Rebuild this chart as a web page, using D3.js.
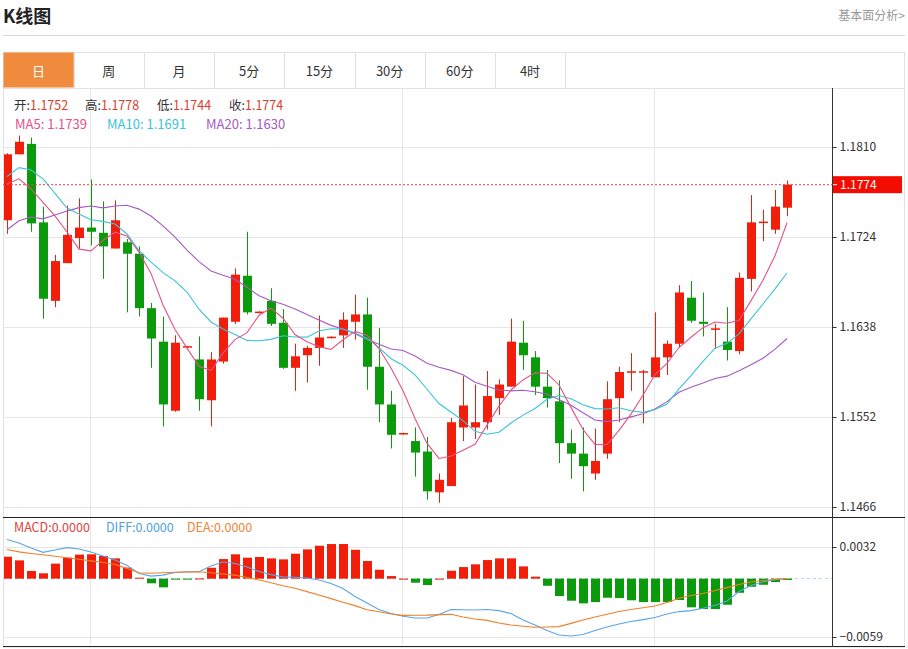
<!DOCTYPE html>
<html><head><meta charset="utf-8">
<script src="https://cdn.jsdelivr.net/npm/d3@7"></script>
<style>
body{margin:0;background:#fff;}
svg{display:block;font-family:"Noto Sans CJK SC","Microsoft YaHei",sans-serif;}
</style></head><body>
<svg id="c" width="908" height="649"></svg>
<script>
// ---------- data ----------
const categories = d3.range(66);
const open = [1.1740,1.1803,1.1813,1.1738,1.1663,1.1699,1.1723,1.1733,1.1728,1.1713,1.1719,1.1708,1.1656,1.1624,1.1558,1.1619,1.1607,1.1568,1.1605,1.1643,1.1687,1.1652,1.1663,1.1642,1.1599,1.1611,1.1618,1.1628,1.1630,1.1643,1.1650,1.1600,1.1564,1.1536,1.1529,1.1519,1.1480,1.1486,1.1542,1.1542,1.1547,1.1570,1.1581,1.1623,1.1609,1.1581,1.1567,1.1527,1.1517,1.1498,1.1517,1.1570,1.1595,1.1595,1.1590,1.1609,1.1622,1.1666,1.1643,1.1636,1.1624,1.1615,1.1684,1.1738,1.1731,1.1752];
const high = [1.1804,1.1821,1.1819,1.1753,1.1707,1.1754,1.1761,1.1779,1.1758,1.1759,1.1722,1.1715,1.1661,1.1648,1.1630,1.1620,1.1629,1.1614,1.1647,1.1694,1.1729,1.1653,1.1675,1.1655,1.1622,1.1620,1.1649,1.1629,1.1652,1.1669,1.1666,1.1637,1.1577,1.1537,1.1542,1.1533,1.1498,1.1551,1.1591,1.1583,1.1596,1.1588,1.1646,1.1644,1.1615,1.1597,1.1587,1.1540,1.1542,1.1541,1.1586,1.1600,1.1613,1.1597,1.1652,1.1625,1.1678,1.1682,1.1671,1.1641,1.1657,1.1690,1.1764,1.1750,1.1769,1.1778];
const low = [1.1727,1.1803,1.1729,1.1646,1.1657,1.1699,1.1713,1.1716,1.1684,1.1713,1.1652,1.1648,1.1599,1.1543,1.1557,1.1618,1.1558,1.1543,1.1603,1.1641,1.1650,1.1651,1.1639,1.1598,1.1577,1.1585,1.1601,1.1627,1.1618,1.1626,1.1578,1.1547,1.1522,1.1535,1.1495,1.1473,1.1470,1.1486,1.1529,1.1531,1.1540,1.1554,1.1581,1.1597,1.1573,1.1561,1.1508,1.1493,1.1481,1.1492,1.1512,1.1547,1.1577,1.1546,1.1590,1.1592,1.1618,1.1642,1.1629,1.1617,1.1606,1.1612,1.1672,1.1720,1.1727,1.1744];
const close = [1.1803,1.1815,1.1737,1.1665,1.1701,1.1726,1.1733,1.1729,1.1715,1.1740,1.1708,1.1656,1.1627,1.1564,1.1623,1.1619,1.1569,1.1607,1.1647,1.1688,1.1652,1.1652,1.1641,1.1599,1.1610,1.1618,1.1628,1.1628,1.1645,1.1650,1.1600,1.1564,1.1535,1.1536,1.1518,1.1481,1.1492,1.1547,1.1563,1.1547,1.1572,1.1583,1.1624,1.1611,1.1581,1.1570,1.1527,1.1517,1.1505,1.1510,1.1569,1.1595,1.1595,1.1595,1.1609,1.1622,1.1671,1.1644,1.1641,1.1636,1.1616,1.1685,1.1738,1.1738,1.1753,1.1774];
// closes before the visible window (used only for the moving averages)
const prevCloses = [1.1645,1.1665,1.1699,1.1627,1.1652,1.1667,1.1699,1.1749,1.1706,1.1692,1.1730,1.1760,1.1750,1.1840,1.1865,1.1790,1.1785,1.1730,1.1765];
const macdHist = [0.00222,0.00185,0.00078,0.00054,0.00152,0.00212,0.00243,0.00246,0.00229,0.00205,0.00111,0.00010,-0.00047,-0.00088,-0.00003,-0.00003,0.00002,0.00110,0.00198,0.00246,0.00212,0.00219,0.00205,0.00195,0.00252,0.00296,0.00333,0.00350,0.00350,0.00292,0.00178,0.00090,0.00026,0.00000,-0.00041,-0.00065,0.00000,0.00080,0.00117,0.00145,0.00188,0.00205,0.00205,0.00124,0.00020,-0.00072,-0.00176,-0.00223,-0.00250,-0.00237,-0.00193,-0.00196,-0.00219,-0.00237,-0.00237,-0.00237,-0.00216,-0.00290,-0.00307,-0.00307,-0.00264,-0.00143,-0.00082,-0.00062,-0.00034,-0.00014];
const diff = [0.00395,0.00360,0.00309,0.00266,0.00289,0.00314,0.00299,0.00269,0.00228,0.00188,0.00132,0.00052,0.00026,0.00036,0.00062,0.00070,0.00070,0.00127,0.00168,0.00153,0.00117,0.00072,0.00041,0.00018,0.00014,0.00006,-0.00014,-0.00050,-0.00100,-0.00181,-0.00247,-0.00312,-0.00353,-0.00381,-0.00398,-0.00398,-0.00363,-0.00312,-0.00314,-0.00317,-0.00312,-0.00323,-0.00353,-0.00419,-0.00469,-0.00525,-0.00570,-0.00580,-0.00565,-0.00525,-0.00489,-0.00459,-0.00434,-0.00414,-0.00393,-0.00358,-0.00333,-0.00323,-0.00300,-0.00272,-0.00226,-0.00130,-0.00070,-0.00034,-0.00011,0.00001];
const dea = [0.00294,0.00271,0.00255,0.00241,0.00227,0.00212,0.00196,0.00180,0.00164,0.00143,0.00104,0.00060,0.00055,0.00059,0.00064,0.00067,0.00070,0.00059,0.00047,0.00036,0.00012,-0.00014,-0.00042,-0.00071,-0.00097,-0.00131,-0.00166,-0.00202,-0.00239,-0.00273,-0.00314,-0.00335,-0.00358,-0.00371,-0.00370,-0.00369,-0.00364,-0.00360,-0.00388,-0.00408,-0.00422,-0.00449,-0.00469,-0.00481,-0.00491,-0.00489,-0.00485,-0.00452,-0.00419,-0.00388,-0.00360,-0.00333,-0.00312,-0.00295,-0.00277,-0.00242,-0.00198,-0.00171,-0.00150,-0.00120,-0.00091,-0.00060,-0.00034,-0.00019,-0.00009,0.00000];
const priceTicks = [1.1810,1.1724,1.1638,1.1552,1.1466];
const macdTicks = [0.0032,-0.0059];
const gridDays = [7,33,54];
const tabs = ["日","周","月","5分","15分","30分","60分","4时"];
const lastPrice = 1.1774;

// ---------- layout ----------
const svg = d3.select("#c");
const L = 3, R = 905, AX = 832;
const priceTop = 88, priceBot = 517, macdBot = 647;
const RED = "#f01e0a", GREEN = "#0b9a0b";
const C5 = "#e3528a", C10 = "#3cc3d6", C20 = "#a55ac2";

svg.append("text").attr("x",3).attr("y",23).attr("font-size",18).attr("font-weight","bold").attr("fill","#222").text("K线图");
svg.append("text").attr("x",905).attr("y",20).attr("text-anchor","end").attr("font-size",12).attr("fill","#999").text("基本面分析>");
svg.append("line").attr("x1",L).attr("x2",R).attr("y1",35.5).attr("y2",35.5).attr("stroke","#d8d8d8");

// frame
svg.append("rect").attr("x",L+0.5).attr("y",52.5).attr("width",R-L-1).attr("height",macdBot-52.5).attr("fill","none").attr("stroke","#e0e0e0");

// tabs
const tabW = 70.2;
const tg = svg.append("g");
tabs.forEach((t,i)=>{
  const x0 = L + 0.5 + i*tabW;
  if(i===0) tg.append("rect").attr("x",x0).attr("y",52.5).attr("width",tabW).attr("height",35).attr("fill","#f08b3d");
  tg.append("line").attr("x1",Math.round(x0+tabW)+0.5).attr("x2",Math.round(x0+tabW)+0.5).attr("y1",52.5).attr("y2",88.5).attr("stroke","#e0e0e0");
  tg.append("text").attr("x",x0+tabW/2).attr("y",76).attr("text-anchor","middle").attr("font-size",13)
    .attr("fill",i===0?"#fff":"#333").text(t);
});
svg.append("line").attr("x1",L).attr("x2",R).attr("y1",88.5).attr("y2",88.5).attr("stroke","#e0e0e0");

// scales
const x = d3.scaleBand().domain(categories).range([1,793]).paddingInner(0.25).paddingOuter(0.125);
const cx = i => x(i) + x.bandwidth()/2;
const y = d3.scaleLinear().domain([1.1466,1.1810]).range([507,147]);
const ym = d3.scaleLinear().domain([-0.0059,0.0032]).range([637,547]);

// clip
const defs = svg.append("defs");
defs.append("clipPath").attr("id","cp").append("rect").attr("x",L+1).attr("y",priceTop+1).attr("width",AX-L-1).attr("height",priceBot-priceTop-1);
defs.append("clipPath").attr("id","cm").append("rect").attr("x",L+1).attr("y",priceBot+1).attr("width",AX-L-1).attr("height",macdBot-priceBot-1);

// grid
const grid = svg.append("g").attr("stroke","#e6e6e6");
priceTicks.forEach(v=>grid.append("line").attr("x1",L).attr("x2",AX).attr("y1",Math.round(y(v))+0.5).attr("y2",Math.round(y(v))+0.5));
macdTicks.forEach(v=>grid.append("line").attr("x1",L).attr("x2",AX).attr("y1",Math.round(ym(v))+0.5).attr("y2",Math.round(ym(v))+0.5));
gridDays.forEach(d=>grid.append("line").attr("x1",Math.round(cx(d))-0.5).attr("x2",Math.round(cx(d))-0.5).attr("y1",priceTop).attr("y2",macdBot));

// candles
const pg = svg.append("g").attr("clip-path","url(#cp)");
const bw = x.bandwidth();
categories.forEach(i=>{
  const up = close[i] >= open[i];
  const col = up ? RED : GREEN;
  const xc = Math.round(cx(i)) + 0.5;
  pg.append("line").attr("x1",xc).attr("x2",xc).attr("y1",y(high[i])).attr("y2",y(low[i])).attr("stroke",col).attr("stroke-width",1);
  const top = y(Math.max(open[i],close[i])), bot = y(Math.min(open[i],close[i]));
  const h = Math.max(1.5, bot-top);
  pg.append("rect").attr("x",xc-bw/2).attr("y",h===1.5?(top+bot)/2-0.75:top).attr("width",bw).attr("height",h).attr("fill",col);
});

// moving averages
const all = prevCloses.concat(close);
const off = prevCloses.length;
const ma = n => categories.map(i => d3.mean(all.slice(i+off-n+1, i+off+1)));
const ma5 = ma(5), ma10 = ma(10), ma20 = ma(20);
const line = d3.line().x((d,i)=>cx(i)).y(d=>y(d));
[[ma20,C20],[ma10,C10],[ma5,C5]].forEach(([arr,c])=>{
  pg.append("path").attr("d",line(arr)).attr("fill","none").attr("stroke",c).attr("stroke-width",1.1);
});

// last price dashed line
svg.append("line").attr("x1",L).attr("x2",AX).attr("y1",y(lastPrice)).attr("y2",y(lastPrice))
  .attr("stroke","#e84a4a").attr("stroke-dasharray","2,2");

// MACD
const mg = svg.append("g").attr("clip-path","url(#cm)");
mg.append("line").attr("x1",L).attr("x2",AX).attr("y1",ym(0)).attr("y2",ym(0)).attr("stroke","#a9d6dc").attr("stroke-dasharray","3,3");
categories.forEach(i=>{
  const v = macdHist[i];
  const xc = Math.round(cx(i)) + 0.5;
  const y0 = ym(0), y1 = ym(v);
  mg.append("rect").attr("x",xc-bw/2).attr("y",Math.min(y0,y1)).attr("width",bw).attr("height",Math.max(1,Math.abs(y1-y0)))
    .attr("fill", v>=0 ? RED : GREEN);
});
const mline = d3.line().x((d,i)=>cx(i)).y(d=>ym(d));
mg.append("path").attr("d",mline(diff)).attr("fill","none").attr("stroke","#59a6e6").attr("stroke-width",1.1);
mg.append("path").attr("d",mline(dea)).attr("fill","none").attr("stroke","#f07f2a").attr("stroke-width",1.1);

// pane separators and axis line
svg.append("line").attr("x1",L).attr("x2",R).attr("y1",priceBot+0.5).attr("y2",priceBot+0.5).attr("stroke","#222");
svg.append("line").attr("x1",L).attr("x2",R).attr("y1",macdBot-0.5).attr("y2",macdBot-0.5).attr("stroke","#222");
svg.append("line").attr("x1",AX+0.5).attr("x2",AX+0.5).attr("y1",priceTop).attr("y2",macdBot).attr("stroke","#333");

// axes
function styleAxis(g){
  g.select(".domain").remove();
  g.selectAll(".tick line").attr("stroke","#333");
  g.selectAll(".tick text").attr("fill","#333").attr("font-size",12).attr("font-family","'Noto Sans CJK SC','Microsoft YaHei',sans-serif");
}
svg.append("g").attr("transform",`translate(${AX+0.5},0)`)
  .call(d3.axisRight(y).tickValues(priceTicks).tickFormat(d3.format(".4f")).tickSize(4).tickPadding(3)).call(styleAxis);
svg.append("g").attr("transform",`translate(${AX+0.5},0)`)
  .call(d3.axisRight(ym).tickValues(macdTicks).tickFormat(d3.format(".4f")).tickSize(4).tickPadding(3)).call(styleAxis);

// last price tag
const ly = y(lastPrice);
svg.append("rect").attr("x",AX+1).attr("y",ly-8.5).attr("width",69).attr("height",17).attr("fill","#f20d00");
svg.append("line").attr("x1",AX+1).attr("x2",AX+5).attr("y1",ly).attr("y2",ly).attr("stroke","#fff");
svg.append("text").attr("x",AX+8).attr("y",ly+4.5).attr("font-size",12).attr("fill","#fff").text(d3.format(".4f")(lastPrice));

// legends
function legend(xp, yp, size, parts){
  const t = svg.append("text").attr("x",xp).attr("y",yp).attr("font-size",size);
  parts.forEach(([s,c])=>t.append("tspan").attr("fill",c).text(s));
}
const f4 = d3.format(".4f");
const n = categories.length-1;
legend(14,109.5,12.5,[["开:","#333"],[f4(open[n]),"#e23b2e"]]);
legend(85,109.5,12.5,[["高:","#333"],[f4(high[n]),"#e23b2e"]]);
legend(157,109.5,12.5,[["低:","#333"],[f4(low[n]),"#e23b2e"]]);
legend(229,109.5,12.5,[["收:","#333"],[f4(close[n]),"#e23b2e"]]);
legend(15,128.5,13,[["MA5: 1.1739",C5]]);
legend(107,128.5,13,[["MA10: 1.1691",C10]]);
legend(206,128.5,13,[["MA20: 1.1630",C20]]);
legend(14,532,12.5,[["MACD:0.0000","#e0413a"]]);
legend(106,532,12.5,[["DIFF:0.0000","#4f9fe0"]]);
legend(187,532,12.5,[["DEA:0.0000","#ef8536"]]);
</script>
</body></html>
